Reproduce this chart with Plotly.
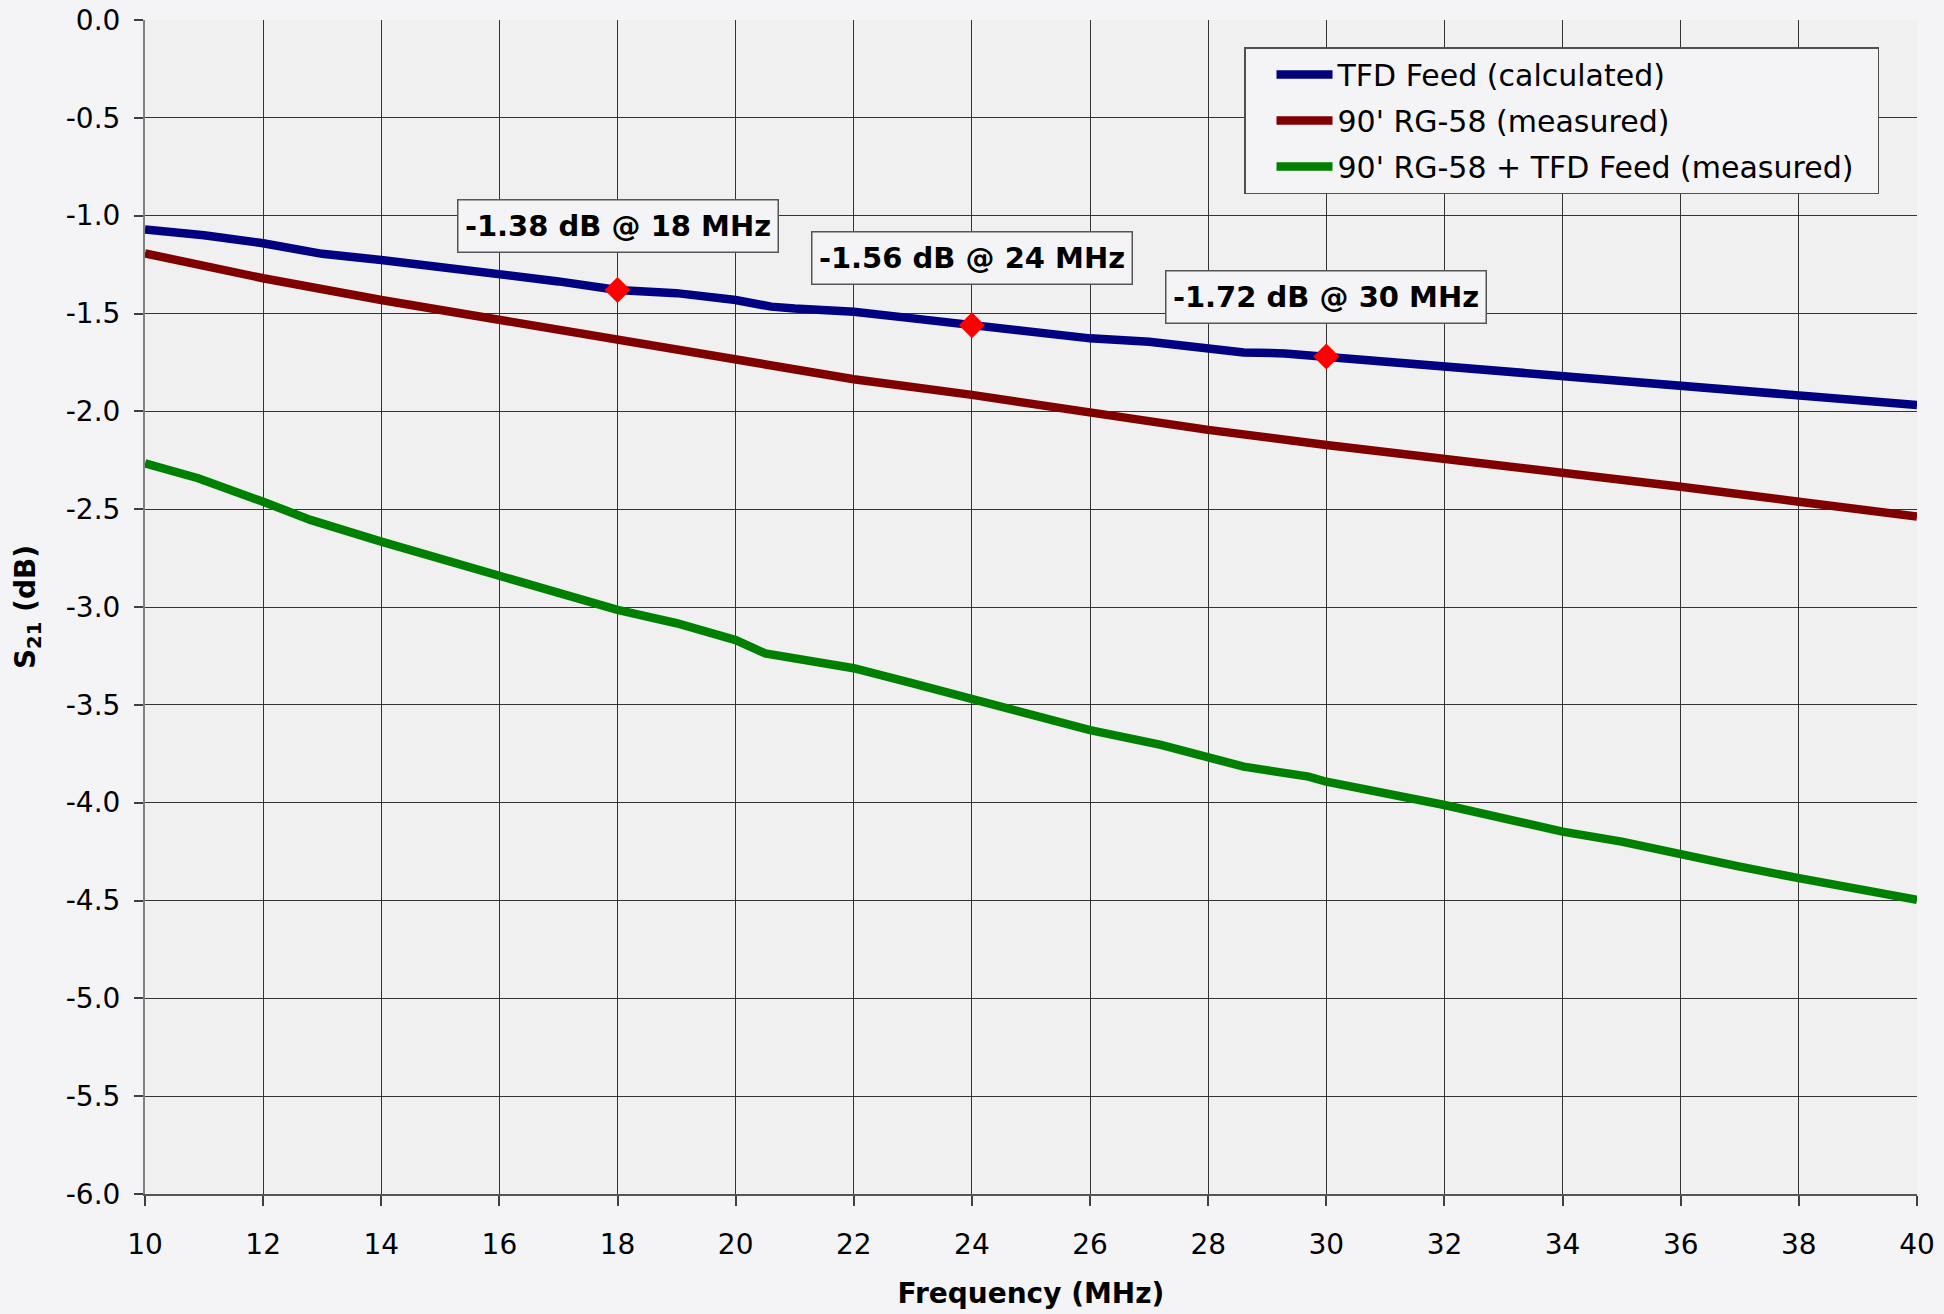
import plotly.graph_objects as go

# Transmission (S21) of the TFD feed and the 90' RG-58 run, 10-40 MHz
freq_tfd = [10, 11, 12, 13, 14, 15, 16, 17, 18, 19, 20, 20.6, 21, 22, 23, 24, 25,
            26, 27, 28, 28.6, 29.3, 30, 31, 32, 33, 34, 35, 36, 37, 38, 39, 40]
s21_tfd = [-1.070, -1.100, -1.141, -1.195, -1.227, -1.262, -1.303, -1.336, -1.380,
           -1.396, -1.431, -1.465, -1.475, -1.491, -1.525, -1.559, -1.588,
           -1.627, -1.644, -1.673, -1.699, -1.704, -1.721, -1.751, -1.772,
           -1.802, -1.823, -1.840, -1.874, -1.891, -1.917, -1.946, -1.968]

freq_coax = [10, 12, 14, 16, 18, 20, 22, 24, 26, 28, 30, 32, 34, 36, 38, 40]
s21_coax = [-1.193, -1.320, -1.431, -1.533, -1.641, -1.738, -1.836, -1.916,
            -2.010, -2.095, -2.172, -2.240, -2.317, -2.385, -2.462, -2.538]

freq_both = [10, 10.9, 12, 12.8, 14, 14.9, 16, 17, 18, 19, 20, 20.5, 22, 23, 24,
             24.9, 26, 27.2, 28, 28.6, 29.7, 30, 32, 34, 35, 36, 37, 38, 39, 40]
s21_both = [-2.266, -2.342, -2.462, -2.555, -2.666, -2.743, -2.836, -2.922,
            -3.015, -3.083, -3.169, -3.237, -3.313, -3.390, -3.467, -3.535,
            -3.629, -3.705, -3.765, -3.816, -3.867, -3.893, -4.012, -4.148,
            -4.199, -4.267, -4.327, -4.386, -4.446, -4.497]

# Highlighted points on the TFD feed curve
mark_freq = [18, 24, 30]
mark_s21 = [-1.38, -1.56, -1.72]

series_names = ["TFD Feed (calculated)", "90' RG-58 (measured)",
                "90' RG-58 + TFD Feed (measured)"]
series_colors = ["#000080", "#800000", "#008000"]

x_ticks = list(range(10, 41, 2))
y_ticks = [round(-0.5 * i, 1) for i in range(0, 13)]
y_tick_text = ["0.0", "-0.5", "-1.0", "-1.5", "-2.0", "-2.5", "-3.0", "-3.5",
               "-4.0", "-4.5", "-5.0", "-5.5", "-6.0"]

FONT = "DejaVu Sans, Verdana, sans-serif"
PAD = "\u00a0\u00a0"  # right-hand breathing room inside the legend box

fig = go.Figure()
for i, (fx, fy) in enumerate([(freq_tfd, s21_tfd), (freq_coax, s21_coax),
                              (freq_both, s21_both)]):
    fig.add_trace(go.Scatter(
        x=fx, y=fy, mode="lines", name=series_names[i] + PAD,
        legendgroup=f"g{i}",
        line=dict(color=series_colors[i], width=8.5),
    ))

fig.add_trace(go.Scatter(
    x=mark_freq, y=mark_s21, mode="markers", showlegend=False,
    marker=dict(symbol="diamond", size=20, color="#FF0000",
                line=dict(width=0)),
))

# label boxes sit above each highlighted point
label_lift = [64, 67, 60]
for f, v, lift in zip(mark_freq, mark_s21, label_lift):
    fig.add_annotation(
        x=f, y=v, xref="x", yref="y",
        text=f"<b>{v:.2f} dB @ {f} MHz</b>",
        showarrow=False, yshift=lift,
        width=311, height=43,
        font=dict(family=FONT, size=29, color="#000000"),
        bgcolor="#F4F4F7", bordercolor="#555555", borderwidth=1.5, borderpad=4,
    )

fig.update_layout(
    width=1944, height=1314,
    margin=dict(l=145, r=27, t=20, b=120),
    paper_bgcolor="#F4F4F7",
    plot_bgcolor="#F0F0F0",
    font=dict(family=FONT, size=28, color="#000000"),
    legend=dict(
        x=(1244 - 145) / 1772, y=1 - (47 - 20) / 1174,
        xanchor="left", yanchor="top",
        bgcolor="#F4F4F7", bordercolor="#505050", borderwidth=1.5,
        font=dict(family=FONT, size=30, color="#000000"),
        traceorder="grouped", tracegroupgap=4, itemwidth=56,
        indentation=26,
    ),
    xaxis=dict(
        range=[10, 40], tickvals=x_ticks, ticks="outside", ticklen=10,
        tickcolor="#404040", tickwidth=1.5, automargin=False,
        showgrid=True, gridcolor="#333333", gridwidth=1,
        showline=True, linecolor="#555555", linewidth=2,
        zeroline=False, ticklabelstandoff=14,
        tickfont=dict(family=FONT, size=28),
        title=dict(text="<b>Frequency (MHz)</b>", font=dict(family=FONT, size=28),
                   standoff=24),
    ),
    yaxis=dict(
        range=[-6, 0], tickvals=y_ticks, ticktext=y_tick_text, ticks="outside",
        ticklen=9, tickcolor="#404040", tickwidth=1.5, automargin=False,
        showgrid=True, gridcolor="#333333", gridwidth=1,
        showline=True, linecolor="#808080", linewidth=2,
        zeroline=False, ticklabelstandoff=8,
        tickfont=dict(family=FONT, size=28),
        title=dict(text="<b>S<sub>21</sub> (dB)</b>", font=dict(family=FONT, size=28),
                   standoff=22),
    ),
)

fig.write_html("out.html")
